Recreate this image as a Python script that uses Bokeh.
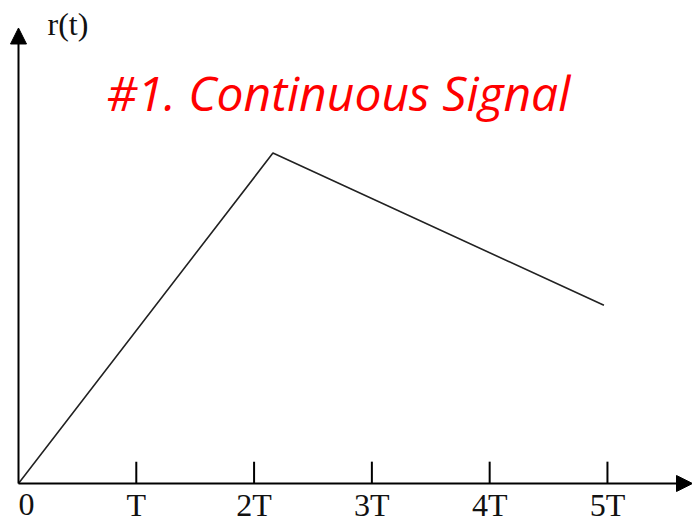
from bokeh.plotting import figure
from bokeh.models import Arrow, NormalHead
from bokeh.core.properties import value
from bokeh.embed import file_html
from bokeh.resources import INLINE

# ---- data ----
t_points = [0.0, 2.16, 4.97]          # time in units of T
r_points = [0.0, 2.80, 1.51]          # signal amplitude
tick_pos = [0, 1, 2, 3, 4, 5]
tick_labels = ["0", "T", "2T", "3T", "4T", "5T"]
title_text = "#1. Continuous Signal"
y_label_text = "r(t)"

# ---- layout ----
W, H = 692, 523
x_range = (-0.1528, 5.722)
y_range = (-0.339, 4.093)
y_axis_top = 3.86
tick_len = 0.185
label_y = -0.18

p = figure(width=W, height=H, x_range=x_range, y_range=y_range,
           x_axis_type=None, y_axis_type=None,
           output_backend="svg", toolbar_location=None, min_border=0)
p.grid.visible = False
p.outline_line_color = None
p.background_fill_color = "white"
p.border_fill_color = "white"

# axes with arrow heads
p.add_layout(Arrow(x_start=0, y_start=0, x_end=x_range[1], y_end=0,
                   line_color="black", line_width=2,
                   end=NormalHead(size=16, fill_color="black", line_color="black")))
p.add_layout(Arrow(x_start=0, y_start=0, x_end=0, y_end=y_axis_top,
                   line_color="black", line_width=2,
                   end=NormalHead(size=16, fill_color="black", line_color="black")))

# ticks (pointing up from axis)
tk = tick_pos[1:]
p.segment(x0=tk, y0=[0] * len(tk), x1=tk, y1=[tick_len] * len(tk),
          line_color="black", line_width=2)

# tick labels
p.text(x=tick_pos[:1], y=[label_y], text=tick_labels[:1],
       text_font=value("Liberation Serif"), text_font_size="32px",
       text_align="left", text_baseline="alphabetic", text_color="#111111")
p.text(x=tick_pos[1:], y=[label_y] * len(tk), text=tick_labels[1:],
       text_font=value("Liberation Serif"), text_font_size="32px",
       text_align="center", text_baseline="alphabetic", text_color="#111111")

# signal
p.line(t_points, r_points, line_color="#222222", line_width=1.6)

# y label
p.text(x=[0.42], y=[3.89], text=[y_label_text],
       text_font=value("Liberation Serif"), text_font_size="32px",
       text_align="center", text_baseline="alphabetic", text_color="#111111")

# title
p.text(x=[2.716], y=[3.314], text=[title_text],
       text_font=value("Open Sans"), text_font_style="italic",
       text_font_size="48px", text_color="#ff0000",
       text_align="center", text_baseline="alphabetic")

open("out.html", "w").write(file_html(p, INLINE))
